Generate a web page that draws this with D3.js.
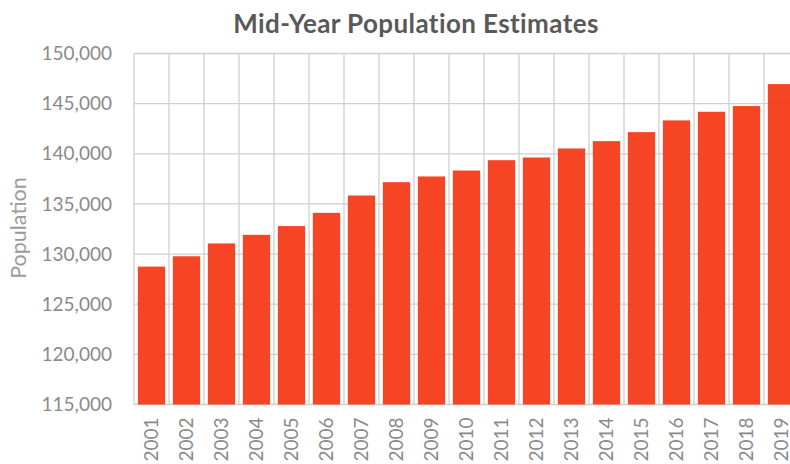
<!DOCTYPE html>
<html>
<head>
<meta charset="utf-8">
<script src="https://cdn.jsdelivr.net/npm/d3@7"></script>
<style>
  html, body { margin: 0; padding: 0; background: #fff; overflow: hidden; }
  svg { display: block; }
</style>
</head>
<body>
<svg id="chart" width="790" height="464"></svg>
<script>
const years = ["2001","2002","2003","2004","2005","2006","2007","2008","2009","2010",
               "2011","2012","2013","2014","2015","2016","2017","2018","2019"];
const population = [128750, 129780, 131060, 131920, 132790, 134110, 135840, 137170, 137740, 138330,
                    139360, 139630, 140530, 141260, 142160, 143330, 144190, 144760, 146950];
const yTicks = [115000, 120000, 125000, 130000, 135000, 140000, 145000, 150000];
const titleText = "Mid-Year Population Estimates";
const yAxisTitle = "Population";

const svg = d3.select("#chart");
const plotLeft = 134, plotRight = 799, plotTop = 53.5, plotBottom = 404.5;

const x = d3.scaleBand().domain(years).range([plotLeft, plotRight]).paddingInner(0.22).paddingOuter(0.11);
const y = d3.scaleLinear().domain([115000, 150000]).range([plotBottom, plotTop]);
const fmt = d3.format(",");

// gridlines
const grid = svg.append("g");
grid.selectAll("line.h").data(yTicks).join("line")
  .attr("x1", plotLeft).attr("x2", plotRight)
  .attr("y1", d => y(d)).attr("y2", d => y(d))
  .attr("stroke", "#cfcfcf").attr("stroke-width", 1.3);
const step = x.step();
grid.selectAll("line.v").data(d3.range(years.length + 1)).join("line")
  .attr("x1", i => plotLeft + i * step).attr("x2", i => plotLeft + i * step)
  .attr("y1", plotTop).attr("y2", plotBottom)
  .attr("stroke", "#cfcfcf").attr("stroke-width", 1.3);

// bars
svg.append("g").selectAll("rect").data(years).join("rect")
  .attr("x", d => x(d))
  .attr("width", x.bandwidth())
  .attr("y", (d, i) => y(population[i]))
  .attr("height", (d, i) => y(115000) - y(population[i]))
  .attr("fill", "#f53d1c")
  .attr("fill-opacity", 0.96);

// y axis labels
const yAxis = d3.axisLeft(y).tickValues(yTicks).tickFormat(fmt).tickSize(0).tickPadding(22);
const ya = svg.append("g").attr("transform", `translate(${plotLeft},0)`).call(yAxis);
ya.select(".domain").remove();
ya.selectAll("text").attr("font-family", "Lato, sans-serif").attr("font-size", 19).attr("fill", "#8a8a8a");

// x axis labels
const xAxis = d3.axisBottom(x).tickSize(0).tickPadding(0);
const xa = svg.append("g").attr("transform", `translate(0,${plotBottom})`).call(xAxis);
xa.select(".domain").remove();
xa.selectAll("text")
  .attr("font-family", "Lato, sans-serif").attr("font-size", 19).attr("fill", "#8a8a8a")
  .attr("transform", "rotate(-90)")
  .attr("text-anchor", "end")
  .attr("x", -13).attr("y", 0).attr("dy", "0.35em");

// title
svg.append("text")
  .attr("x", 416).attr("y", 33)
  .attr("text-anchor", "middle")
  .attr("font-family", "Lato, sans-serif").attr("font-weight", "bold").attr("font-size", 26)
  .attr("letter-spacing", 0.4)
  .attr("fill", "#595959")
  .text(titleText);

// y axis title
svg.append("text")
  .attr("transform", "translate(26,228) rotate(-90)")
  .attr("text-anchor", "middle")
  .attr("font-family", "Lato, sans-serif").attr("font-size", 21.5)
  .attr("fill", "#9a9a9a")
  .text(yAxisTitle);
</script>
</body>
</html>
